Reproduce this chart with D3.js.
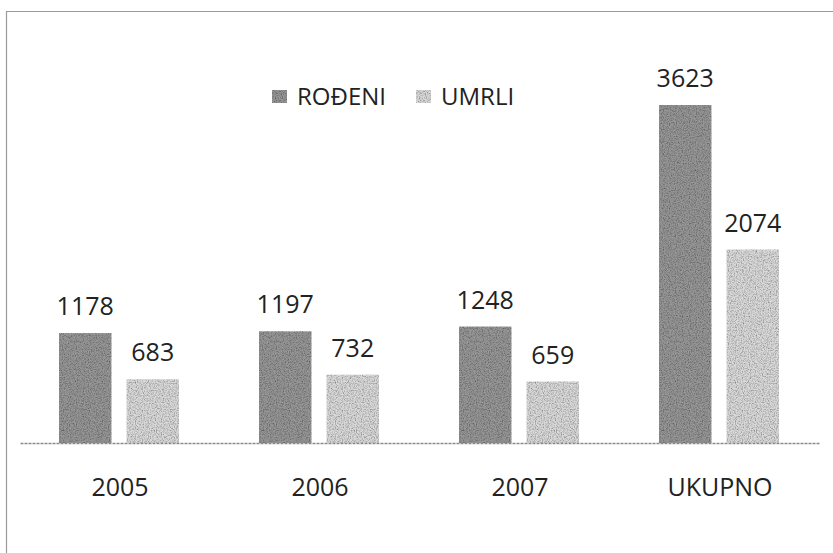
<!DOCTYPE html>
<html>
<head>
<meta charset="utf-8">
<script src="https://cdn.jsdelivr.net/npm/d3@7"></script>
<style>
  body { margin: 0; background: #fff; }
  text { font-family: "Open Sans", "Noto Sans", sans-serif; fill: #222; }
</style>
</head>
<body>
<div id="chart"></div>
<script>
// data
var categories = ['2005', '2006', '2007', 'UKUPNO']
var series = ['ROĐENI', 'UMRLI']
var rodeni = [1178, 1197, 1248, 3623]
var umrli = [683, 732, 659, 2074]
var colors = ['#969696', '#d9d9d9']

var width = 833, height = 553
var baseline = 443
var fontSize = 25

var svg = d3.select('#chart').append('svg')
  .attr('width', width)
  .attr('height', height)

// grainy scan look
var defs = svg.append('defs')
var f = defs.append('filter').attr('id', 'grain')
  .attr('x', 0).attr('y', 0).attr('width', 1).attr('height', 1)
f.append('feTurbulence')
  .attr('type', 'fractalNoise')
  .attr('baseFrequency', 0.85)
  .attr('numOctaves', 2)
  .attr('seed', 4)
  .attr('result', 'noise')
f.append('feColorMatrix')
  .attr('in', 'noise')
  .attr('type', 'matrix')
  .attr('values', '0 0 0 0 0  0 0 0 0 0  0 0 0 0 0  1.4 0 0 0 -0.55')
  .attr('result', 'dots')
f.append('feComposite')
  .attr('in', 'dots').attr('in2', 'SourceGraphic')
  .attr('operator', 'in')
  .attr('result', 'dotsIn')
var merge = f.append('feMerge')
merge.append('feMergeNode').attr('in', 'SourceGraphic')
merge.append('feMergeNode').attr('in', 'dotsIn')

// frame (scan is cropped on right and bottom)
svg.append('path')
  .attr('d', 'M6.5,' + height + ' V11.5 H' + width)
  .attr('fill', 'none')
  .attr('stroke', '#9a9a9a')
  .attr('stroke-width', 1.2)

var x = d3.scaleBand()
  .domain(categories)
  .range([20, 820])

var inner = d3.scaleBand()
  .domain(series)
  .range([39, 159])
  .paddingInner(0.224)

var y = d3.scaleLinear()
  .domain([0, 3623])
  .range([baseline, 105])

var table = categories.map(function(c, i){
  return {cat: c, values: [rodeni[i], umrli[i]]}
})

var groups = svg.selectAll('.grp')
  .data(table).enter().append('g')
  .attr('class', 'grp')
  .attr('transform', function(d){ return 'translate(' + x(d.cat) + ',0)' })

groups.selectAll('rect')
  .data(function(d){ return d.values.map(function(v, j){ return {s: series[j], v: v, j: j} }) })
  .enter().append('rect')
  .attr('x', function(d){ return inner(d.s) })
  .attr('width', inner.bandwidth())
  .attr('y', function(d){ return y(d.v) })
  .attr('height', function(d){ return baseline - y(d.v) })
  .attr('fill', function(d){ return colors[d.j] })
  .attr('filter', 'url(#grain)')

groups.selectAll('.val')
  .data(function(d){ return d.values.map(function(v, j){ return {s: series[j], v: v} }) })
  .enter().append('text')
  .attr('class', 'val')
  .attr('x', function(d){ return inner(d.s) + inner.bandwidth() / 2 })
  .attr('y', function(d){ return y(d.v) - 18 })
  .attr('text-anchor', 'middle')
  .attr('font-size', fontSize)
  .text(function(d){ return d.v })

// axis
var axis = svg.append('g')
  .attr('transform', 'translate(0,' + baseline + ')')
  .call(d3.axisBottom(x).tickSize(0).tickPadding(35))
axis.select('.domain')
  .attr('stroke', '#8a8a8a')
  .attr('stroke-width', 1.3)
  .attr('stroke-dasharray', '3,1')
axis.selectAll('.tick text')
  .attr('font-size', fontSize)
  .attr('fill', '#222')
  .style('font-family', '"Open Sans", "Noto Sans", sans-serif')

// legend
var legend = svg.append('g').attr('transform', 'translate(272,97)')
var lx = [0, 144]
series.forEach(function(s, i){
  var item = legend.append('g').attr('transform', 'translate(' + lx[i] + ',0)')
  item.append('rect')
    .attr('x', 0).attr('y', -7)
    .attr('width', 15).attr('height', 13)
    .attr('fill', colors[i])
    .attr('filter', 'url(#grain)')
  item.append('text')
    .attr('x', 25)
    .attr('y', 8)
    .attr('font-size', 24)
    .text(s)
})
</script>
</body>
</html>
